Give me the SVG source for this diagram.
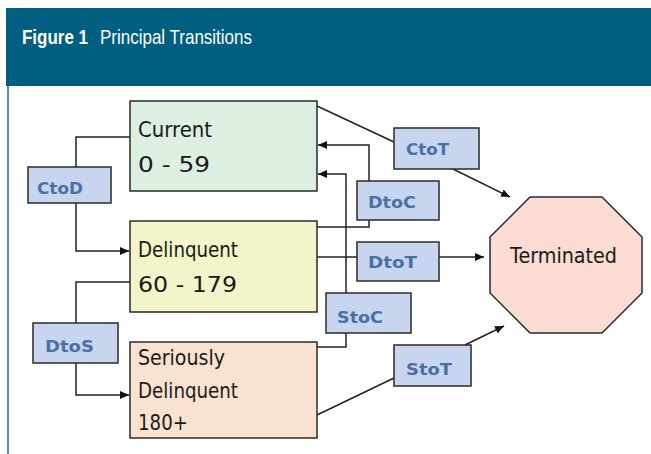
<svg xmlns="http://www.w3.org/2000/svg" width="651" height="454" viewBox="0 0 651 454">
<style>
  .node { stroke: #2a2a2a; stroke-width: 1.5; }
  .lbl { fill: #c8d5ee; stroke: #2a2a2a; stroke-width: 1.5; }
  .t { font-family: "DejaVu Sans", sans-serif; font-size: 20.5px; fill: #1a1a1a; }
  .lt { font-family: "DejaVu Sans", sans-serif; font-size: 16.5px; font-weight: bold; fill: #4a70a6; }
  .conn path { fill: none; stroke: #222; stroke-width: 1.5; }
  .ht { font-family: "Liberation Sans", Arial, sans-serif; font-size: 17px; fill: #ffffff; }
</style>
<defs>
  <marker id="arr" markerUnits="userSpaceOnUse" markerWidth="10" markerHeight="10" viewBox="0 0 10 10" refX="9" refY="5" orient="auto">
    <path d="M0,1 L9,5 L0,9 Z" fill="#111"/>
  </marker>
</defs>
<rect width="651" height="454" fill="#ffffff"/>
<g id="header">
  <rect x="6" y="8" width="645" height="78" fill="#005e80"/>
  <g transform="translate(0,44) scale(1,1.18)">
    <text class="ht" x="22" y="0" font-weight="bold">Figure 1</text>
    <text class="ht" x="100" y="0">Principal Transitions</text>
  </g>
</g>
<line x1="8" y1="86" x2="8" y2="454" stroke="#1a6f92" stroke-width="1.5"/>

<g class="conn" id="connectors">
  <path d="M130,137 H76 V167"/>
  <path d="M76,203 V251 H129" marker-end="url(#arr)"/>
  <path d="M130,282 H76 V323"/>
  <path d="M76,363 V395 H129" marker-end="url(#arr)"/>
  <path d="M317,106 L394,142"/>
  <path d="M453,169 L510,197" marker-end="url(#arr)"/>
  <path d="M317,227 H369 V220"/>
  <path d="M369,181 V145 H318" marker-end="url(#arr)"/>
  <path d="M317,257 H357"/>
  <path d="M439,257 H484" marker-end="url(#arr)"/>
  <path d="M317,347 H346 V333"/>
  <path d="M346,293 V174 H318" marker-end="url(#arr)"/>
  <path d="M317,415 L394,378"/>
  <path d="M465,345 L504,326" marker-end="url(#arr)"/>
</g>

<g id="current">
  <rect class="node" x="130" y="101" width="187" height="90" fill="#dcefe1"/>
  <text class="t" x="138" y="137" textLength="74" lengthAdjust="spacingAndGlyphs">Current</text>
  <text class="t" x="138" y="172" textLength="72" lengthAdjust="spacingAndGlyphs">0 - 59</text>
</g>
<g id="delinquent">
  <rect class="node" x="130" y="221" width="187" height="91" fill="#f3f4c9"/>
  <text class="t" x="138" y="257" textLength="100" lengthAdjust="spacingAndGlyphs">Delinquent</text>
  <text class="t" x="138" y="292" textLength="99" lengthAdjust="spacingAndGlyphs">60 - 179</text>
</g>
<g id="seriously">
  <rect class="node" x="130" y="342" width="187" height="96" fill="#f9e3d0"/>
  <text class="t" x="138" y="365" textLength="87" lengthAdjust="spacingAndGlyphs">Seriously</text>
  <text class="t" x="138" y="398" textLength="100" lengthAdjust="spacingAndGlyphs">Delinquent</text>
  <text class="t" x="138" y="430" textLength="50" lengthAdjust="spacingAndGlyphs">180+</text>
</g>
<g id="terminated">
  <polygon class="node" points="530,197 602,197 642,237 642,293 602,333 530,333 490,293 490,237" fill="#fadcd2"/>
  <text class="t" x="510" y="263" textLength="107" lengthAdjust="spacingAndGlyphs">Terminated</text>
</g>

<g id="CtoD">
  <rect class="lbl" x="28" y="167" width="83" height="36"/>
  <text class="lt" x="37" y="194" textLength="46" lengthAdjust="spacingAndGlyphs">CtoD</text>
</g>
<g id="DtoS">
  <rect class="lbl" x="33" y="323" width="85" height="40"/>
  <text class="lt" x="45" y="352" textLength="49" lengthAdjust="spacingAndGlyphs">DtoS</text>
</g>
<g id="CtoT">
  <rect class="lbl" x="394" y="128" width="85" height="41"/>
  <text class="lt" x="406" y="155" textLength="43" lengthAdjust="spacingAndGlyphs">CtoT</text>
</g>
<g id="DtoC">
  <rect class="lbl" x="357" y="181" width="82" height="39"/>
  <text class="lt" x="368" y="208" textLength="48" lengthAdjust="spacingAndGlyphs">DtoC</text>
</g>
<g id="DtoT">
  <rect class="lbl" x="357" y="242" width="82" height="39"/>
  <text class="lt" x="368" y="268" textLength="49" lengthAdjust="spacingAndGlyphs">DtoT</text>
</g>
<g id="StoC">
  <rect class="lbl" x="326" y="293" width="85" height="40"/>
  <text class="lt" x="337" y="323" textLength="46" lengthAdjust="spacingAndGlyphs">StoC</text>
</g>
<g id="StoT">
  <rect class="lbl" x="394" y="345" width="77" height="41"/>
  <text class="lt" x="406" y="375" textLength="46" lengthAdjust="spacingAndGlyphs">StoT</text>
</g>
</svg>
